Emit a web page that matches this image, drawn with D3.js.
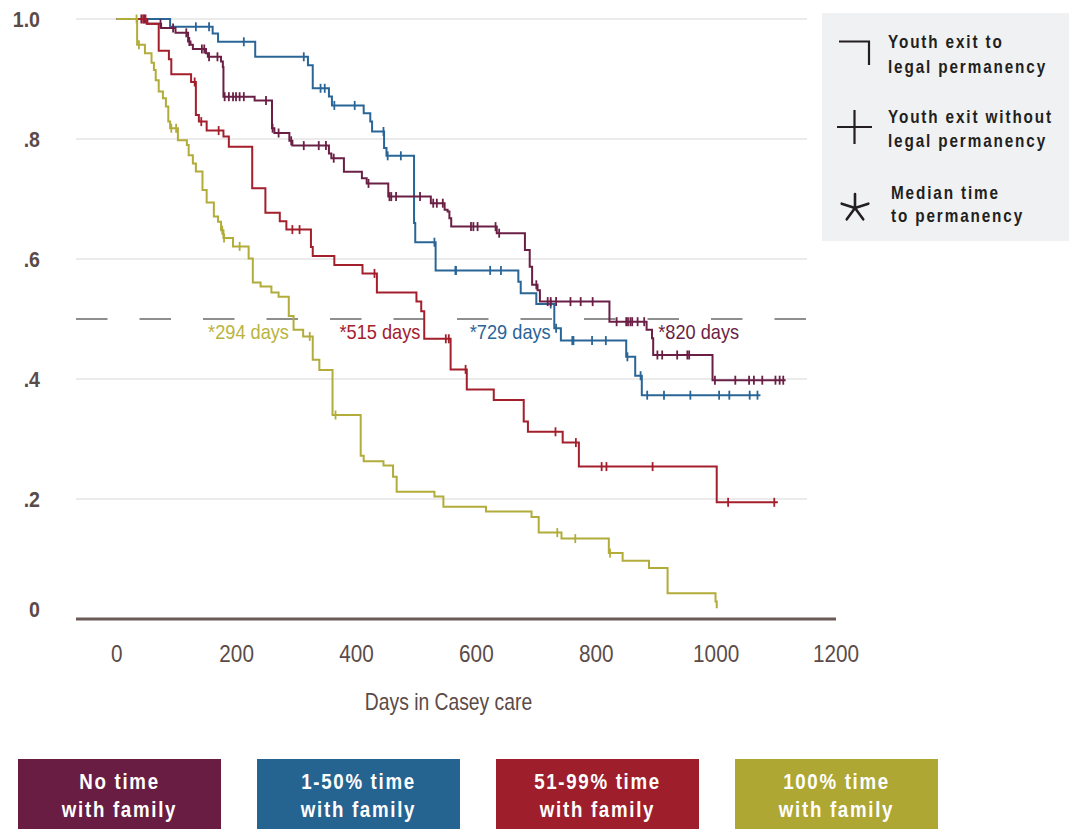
<!DOCTYPE html>
<html>
<head>
<meta charset="utf-8">
<script src="https://cdn.jsdelivr.net/npm/d3@7"></script>
<style>
  body { margin: 0; background: #fff; }
  svg text { font-family: "Liberation Sans", Arial, sans-serif; }
</style>
</head>
<body>
<svg id="chart" width="1074" height="829"></svg>
<script>
// groups, bottom legend order
const groups = ["No time with family", "1-50% time with family", "51-99% time with family", "100% time with family"];
const groupLines = [["No time", "with family"], ["1-50% time", "with family"], ["51-99% time", "with family"], ["100% time", "with family"]];
const boxColors = ["#6a1d43", "#256491", "#9e1f2b", "#aea734"];
const lineColors = ["#6b1f45", "#2a6597", "#a31f2b", "#b2ac3a"];
const labelColors = ["#6b1f45", "#2a6598", "#a3202d", "#b9b33f"];

// Kaplan-Meier steps: [day, survival after drop]
const noTimeSteps = [[51,.992],[74,.985],[98,.977],[119,.9625],[123,.957],[127,.95],[149,.943],[152,.937],[174,.929],[177,.92],[178,.8705],[230,.864],[259,.818],[263,.81],[288,.797],[293,.789],[354,.776],[358,.768],[379,.7455],[409,.7345],[417,.726],[453,.704],[524,.693],[547,.682],[552,.679],[555,.668],[558,.654],[634,.643],[681,.615],[689,.587],[693,.557],[702,.548],[706,.529],[822,.4955],[884,.482],[893,.468],[895,.44],[994,.398]];
const lowSteps = [[89,.987],[160,.976],[169,.962],[231,.937],[319,.923],[327,.8845],[354,.871],[359,.856],[412,.843],[423,.829],[426,.8125],[446,.785],[450,.772],[496,.66],[498,.628],[532,.581],[670,.562],[674,.543],[700,.525],[730,.4845],[741,.464],[850,.437],[865,.4055],[876,.373]];
const highSteps = [[50,.992],[70,.947],[87,.933],[91,.908],[124,.895],[132,.840],[137,.829],[150,.814],[178,.804],[187,.787],[226,.718],[248,.677],[272,.663],[283,.649],[324,.620],[327,.605],[363,.590],[410,.576],[434,.544],[500,.529],[508,.513],[513,.467],[557,.416],[584,.3825],[629,.365],[679,.329],[686,.312],[744,.294],[771,.254],[1001,.1945]];
const fullSteps = [[34,.957],[47,.943],[58,.927],[62,.915],[65,.898],[70,.879],[77,.868],[82,.854],[86,.829],[89,.818],[102,.798],[117,.790],[120,.773],[127,.759],[132,.746],[143,.715],[150,.694],[162,.671],[169,.662],[174,.648],[178,.635],[194,.621],[220,.601],[227,.561],[240,.554],[258,.544],[270,.537],[287,.505],[295,.482],[311,.471],[327,.432],[338,.415],[360,.340],[407,.272],[412,.263],[445,.256],[461,.237],[467,.212],[530,.204],[545,.187],[616,.179],[692,.170],[704,.144],[742,.134],[821,.110],[844,.097],[888,.085],[919,.043],[999,.029],[1001,.018]];

// censored exits (days)
const noTimeCensor = [41,46,73,94,116,121,142,146,154,168,180,187,194,199,205,212,249,260,270,291,312,337,349,362,420,455,458,466,506,528,534,544,591,595,602,632,638,700,719,724,733,757,774,794,834,850,853,857,860,869,880,902,910,935,952,955,998,1032,1055,1063,1077,1099,1106,1112];
const lowCensor = [132,154,212,312,340,347,363,397,445,452,474,530,565,566,623,641,724,733,760,762,793,816,852,874,885,913,957,1005,1022,1056,1069];
const highCensor = [44,48,130,141,170,293,305,430,549,554,582,732,766,809,817,894,1020,1097];
const fullCensor = [33,37,91,99,176,179,205,322,365,735,765,823];

// last day followed
const lastDay = [1116, 1074, 1103, 1001];
const medianDays = [820, 729, 515, 294];

const xTicks = [0, 200, 400, 600, 800, 1000, 1200];
const yTicks = [0, .2, .4, .6, .8, 1];
const yTickLabels = ["0", ".2", ".4", ".6", ".8", "1.0"];

const allSteps = [noTimeSteps, lowSteps, highSteps, fullSteps];
const allCensor = [noTimeCensor, lowCensor, highCensor, fullCensor];

const svg = d3.select("#chart");
const x = d3.scaleLinear().domain([-68, 1200]).range([76, 836]);
const y = d3.scaleLinear().domain([0, 1]).range([619, 19]);
const gridEnd = 807;

// condensed text: squeeze Liberation Sans horizontally
function ctext(parent, tx, ty, str, size, sx) {
  return parent.append("text")
    .attr("transform", `translate(${tx},${ty}) scale(${sx},1)`)
    .style("font-size", size + "px")
    .text(str);
}

// grid
svg.append("g").selectAll("line").data(yTicks.filter(d => d > 0)).join("line")
  .attr("x1", 76).attr("x2", gridEnd)
  .attr("y1", d => y(d)).attr("y2", d => y(d))
  .attr("stroke", "#e4e4e4").attr("stroke-width", 1.5);

// median reference line
svg.append("line")
  .attr("x1", 76).attr("x2", gridEnd)
  .attr("y1", y(.5)).attr("y2", y(.5))
  .attr("stroke", "#6a6a6a").attr("stroke-width", 1.5)
  .attr("stroke-dasharray", "31.5,32");

// y labels
const yg = svg.append("g");
yTicks.forEach((d, i) => {
  ctext(yg, 40, (d === 0 ? y(d) - 10 : y(d)) + 8, yTickLabels[i], 22.5, 0.87)
    .attr("text-anchor", "end")
    .attr("fill", "#5b4b48")
    .style("font-weight", "bold");
});

// x axis
svg.append("line")
  .attr("x1", x(-68)).attr("x2", x(1200))
  .attr("y1", y(0)).attr("y2", y(0))
  .attr("stroke", "#6b5b57").attr("stroke-width", 3);

const xg = svg.append("g");
xTicks.forEach(d => {
  ctext(xg, x(d), 661.5, d, 23, 0.9)
    .attr("text-anchor", "middle")
    .attr("fill", "#5b4b48");
});

ctext(svg, 448.5, 710, "Days in Casey care", 23, 0.84)
  .attr("text-anchor", "middle")
  .attr("fill", "#5b4b48");

// curves
function survAt(steps, t) {
  let s = 1;
  for (const st of steps) { if (st[0] <= t) s = st[1]; else break; }
  return s;
}

const line = d3.line().x(d => x(d[0])).y(d => y(d[1])).curve(d3.curveStepAfter);
const drawOrder = [1, 0, 2, 3];

drawOrder.forEach(i => {
  const steps = allSteps[i];
  const pts = [[0, 1]].concat(steps);
  const last = steps[steps.length - 1];
  if (lastDay[i] > last[0]) pts.push([lastDay[i], last[1]]);
  const g = svg.append("g");
  g.append("path")
    .attr("d", line(pts))
    .attr("fill", "none")
    .attr("stroke", lineColors[i])
    .attr("stroke-width", 2);
  g.selectAll("line").data(allCensor[i]).join("line")
    .attr("x1", d => x(d)).attr("x2", d => x(d))
    .attr("y1", d => y(survAt(steps, d)) - 4.5)
    .attr("y2", d => y(survAt(steps, d)) + 4.5)
    .attr("stroke", lineColors[i])
    .attr("stroke-width", 1.8);
});

// median labels
const medianAnchor = ["start", "end", "end", "end"];
const medianShift = [50, -3, -5, -4];
medianDays.forEach((m, i) => {
  ctext(svg, x(m) + medianShift[i], 339, "*" + m + " days", 20, 0.91)
    .attr("text-anchor", medianAnchor[i])
    .attr("fill", labelColors[i]);
});

// symbol legend
const lg = svg.append("g");
lg.append("rect").attr("x", 822).attr("y", 13).attr("width", 247).attr("height", 228).attr("fill", "#f0f1f3");
lg.append("path").attr("d", "M839,41.5H869V65").attr("fill", "none").attr("stroke", "#231f20").attr("stroke-width", 2.2);
lg.append("path").attr("d", "M837,127H872M854.5,110V144").attr("fill", "none").attr("stroke", "#231f20").attr("stroke-width", 2.2);
const star = d3.range(5).map(k => {
  const a = -Math.PI / 2 + k * 2 * Math.PI / 5;
  return `M855,208L${855 + 14 * Math.cos(a)},${208 + 14 * Math.sin(a)}`;
}).join("");
lg.append("path").attr("d", star).attr("stroke", "#231f20").attr("stroke-width", 2.6).attr("stroke-linecap", "round");

const legendText = [
  [888, 48, "Youth exit to"], [888, 73, "legal permanency"],
  [888, 123, "Youth exit without"], [888, 147, "legal permanency"],
  [891, 199, "Median time"], [891, 222, "to permanency"]
];
legendText.forEach(d => {
  ctext(lg, d[0], d[1], d[2], 18, 0.85)
    .attr("fill", "#231f20")
    .style("font-weight", "bold")
    .style("letter-spacing", "2.2px");
});

// group legend boxes
const boxes = svg.append("g").selectAll("g").data(groups).join("g")
  .attr("transform", (d, i) => `translate(${18 + i * 239},759)`);
boxes.append("rect").attr("width", 203).attr("height", 75).attr("fill", (d, i) => boxColors[i]);
boxes.each(function(d, i) {
  const b = d3.select(this);
  groupLines[i].forEach((t, k) => {
    ctext(b, 101.5, 30 + k * 27.5, t, 22, 0.85)
      .attr("text-anchor", "middle")
      .attr("fill", "#fff")
      .style("font-weight", "bold")
      .style("letter-spacing", "2px");
  });
});
</script>
</body>
</html>
